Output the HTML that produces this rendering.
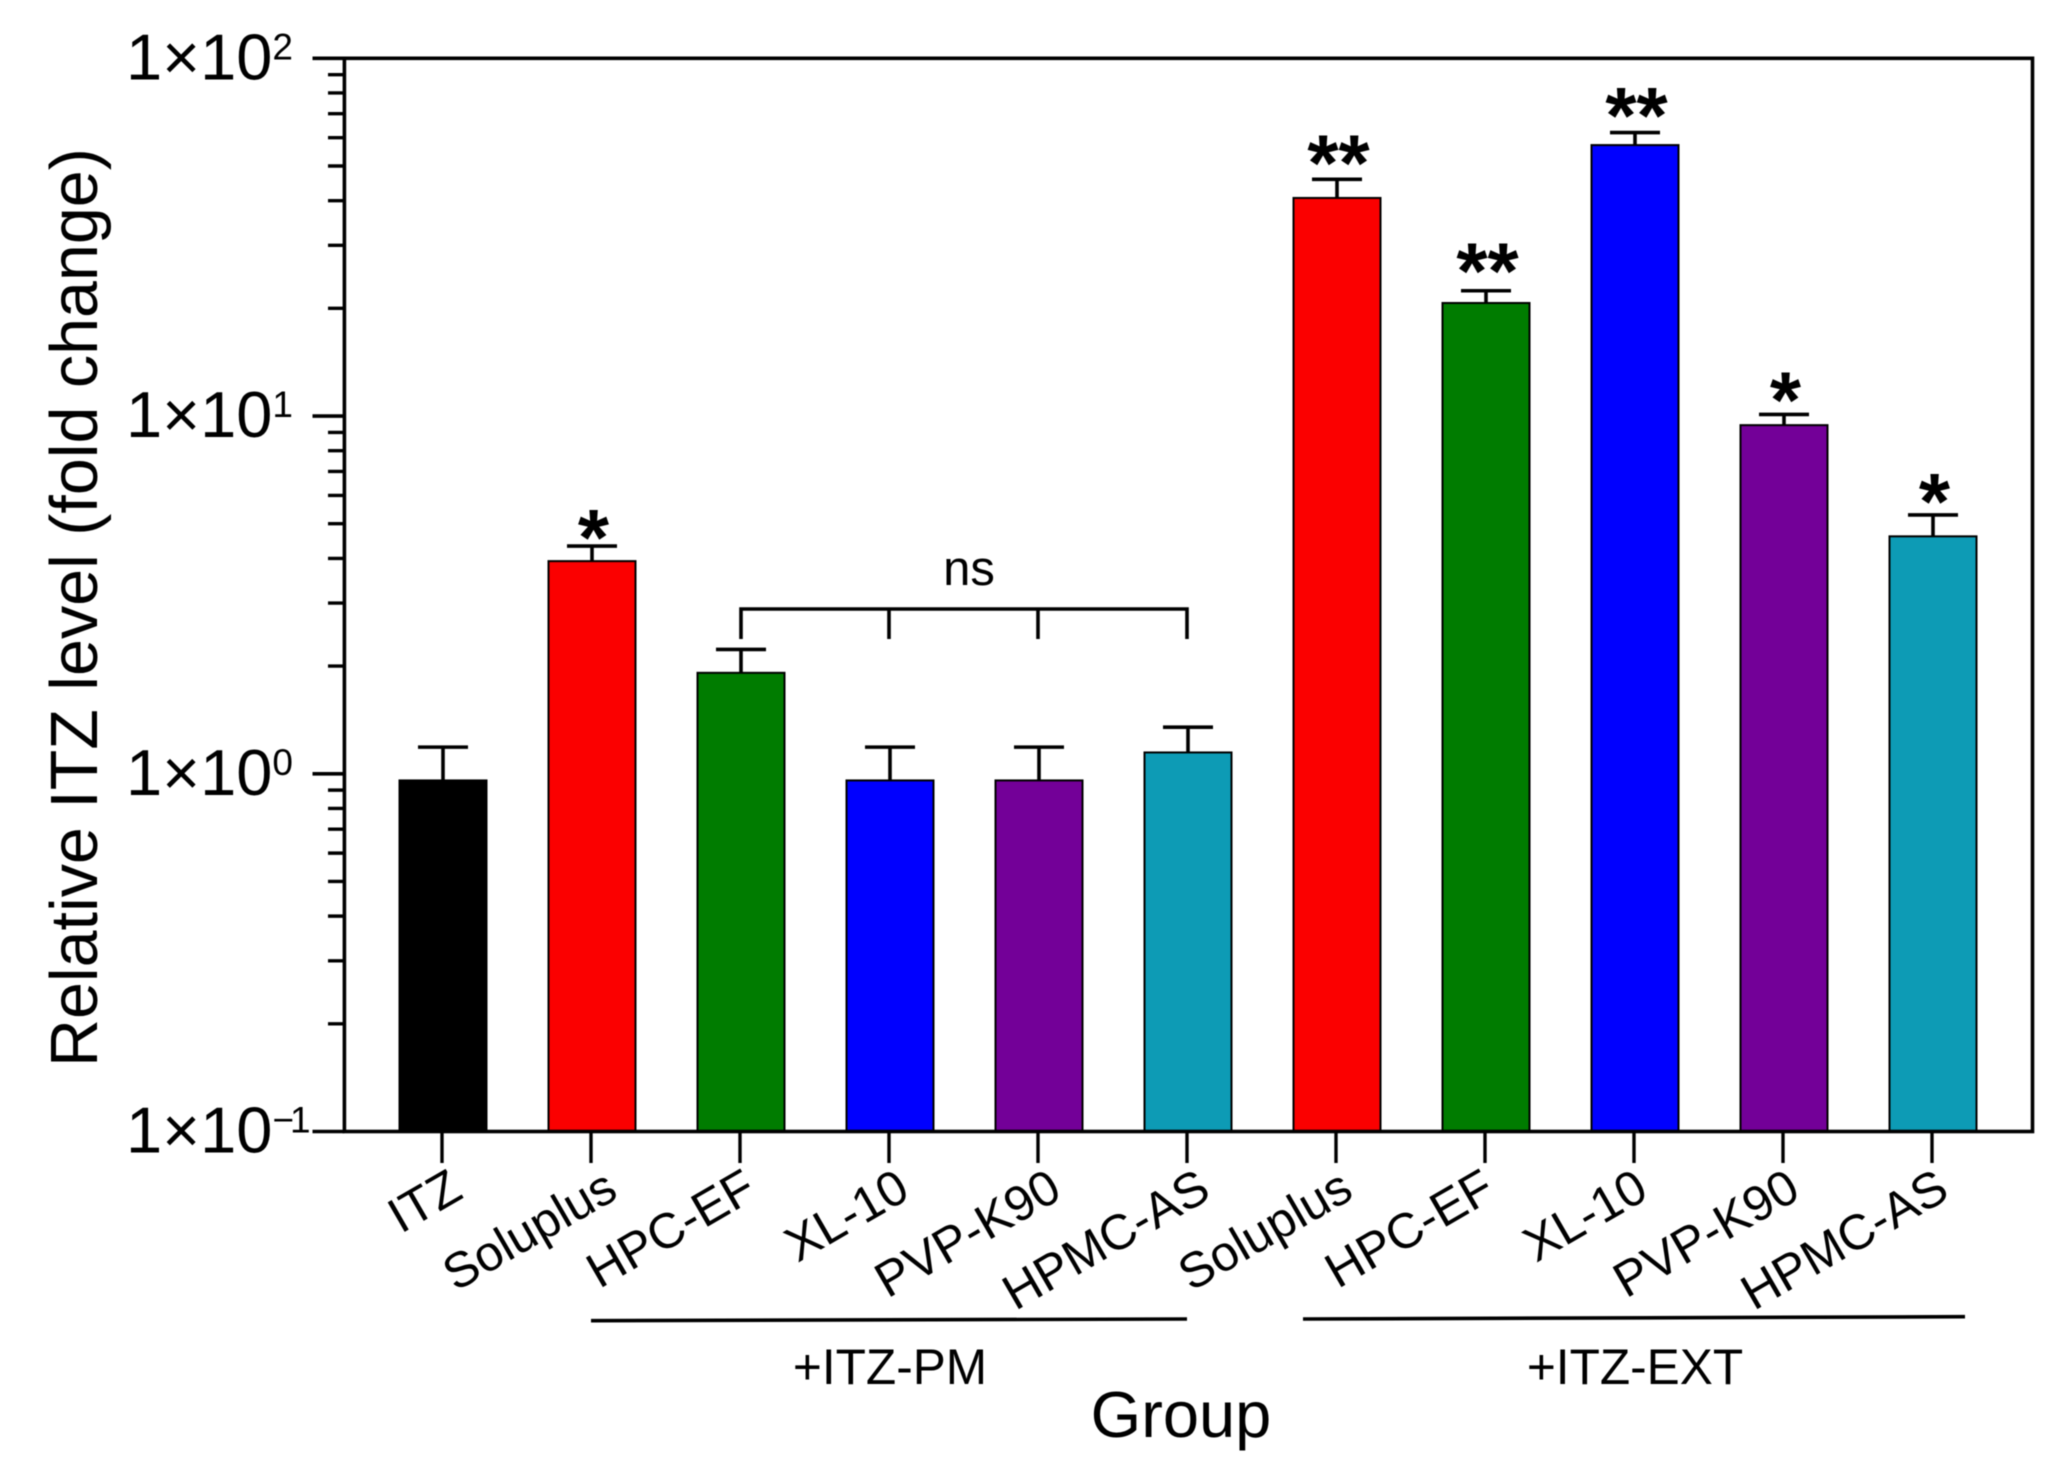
<!DOCTYPE html>
<html lang="en">
<head>
<meta charset="utf-8">
<title>Relative ITZ level by group</title>
<style>
  html, body { margin: 0; padding: 0; background: #ffffff; }
  svg { display: block; filter: blur(0.5px); }
  text { font-family: "Liberation Sans", Arial, sans-serif; fill: #000; }
</style>
</head>
<body>
<svg id="chart" xmlns="http://www.w3.org/2000/svg" width="2072" height="1472" viewBox="0 0 2072 1472">
  <rect x="0" y="0" width="2072" height="1472" fill="#ffffff"/>
  <g id="bars"></g>
  <g id="axes"></g>
  <g id="annotations"></g>

  <text transform="translate(97 1067) rotate(-90)" font-size="66.4">Relative ITZ level (fold change)</text>
  <text x="1181" y="1437" font-size="65" text-anchor="middle">Group</text>

  <line x1="591" y1="1320.7" x2="1187" y2="1319" stroke="#000" stroke-width="3.6"/>
  <text x="890" y="1384" font-size="49.6" text-anchor="middle">+ITZ-PM</text>
  <line x1="1303" y1="1319" x2="1965" y2="1316.7" stroke="#000" stroke-width="3.6"/>
  <text x="1635" y="1384" font-size="49.6" text-anchor="middle">+ITZ-EXT</text>

  <g fill="none" stroke="#000" stroke-width="3.6">
    <path d="M741 639V609H1187V639M889 609V639M1038 609V639"/>
  </g>
  <text x="969" y="585" font-size="49" text-anchor="middle">ns</text>
</svg>

<script>
// ---- chart data ----
const categories = ['ITZ', 'Soluplus', 'HPC-EF', 'XL-10', 'PVP-K90', 'HPMC-AS', 'Soluplus', 'HPC-EF', 'XL-10', 'PVP-K90', 'HPMC-AS'];
const meanValues = [0.958, 3.93, 1.915, 0.958, 0.958, 1.147, 40.7, 20.7, 57.2, 9.43, 4.61];
const upperErrorValues = [1.187, 4.33, 2.226, 1.187, 1.187, 1.35, 45.9, 22.4, 62, 10.1, 5.29];
const barColors = ['#000000', '#fb0000', '#007c00', '#0000ff', '#730098', '#0d9bb5', '#fb0000', '#007c00', '#0000ff', '#730098', '#0d9bb5'];
const significance = ['', '*', '', '', '', '', '**', '**', '**', '*', '*'];
const significanceHeadroom = [1, 1.066, 1, 1, 1, 1, 1.12, 1.145, 1.126, 1.108, 1.10];
const yTickExponents = [2, 1, 0, -1];
const yMinorMultipliers = [2, 3, 4, 5, 6, 7, 8, 9];

// ---- axis functions ----
const plotLeft = 344.4, plotRight = 2032.5, plotTop = 58.3, plotBottom = 1131.5;
const logMin = -1, logMax = 2;
function yScale(v) {
  return plotBottom - (Math.log10(v) - logMin) / (logMax - logMin) * (plotBottom - plotTop);
}
const firstBarX = 443, barStep = 149;
function xScale(i) {
  return firstBarX + barStep * i;
}
// horizontal fine-tuning of the rotated tick labels
function labelOffset(name, i) {
  let off = 26;
  if (name === 'HPC-EF') off -= 7;
  if (name === 'XL-10') off -= 3;
  if (name === 'Soluplus' && i < 6) off += 3;
  if (name === 'ITZ') off -= 3;
  if (i >= 6) off -= 6.5;
  return off;
}

const NS = 'http://www.w3.org/2000/svg';
function make(tag, parent, attrs) {
  const el = document.createElementNS(NS, tag);
  for (const k in attrs) el.setAttribute(k, attrs[k]);
  parent.appendChild(el);
  return el;
}

const barsG = document.getElementById('bars');
const axesG = document.getElementById('axes');
const annG = document.getElementById('annotations');
const barWidth = 87, capWidth = 50;

// ---- bars and error bars ----
categories.forEach(function (name, i) {
  const cx = xScale(i);
  const top = yScale(meanValues[i]);
  const capY = yScale(upperErrorValues[i]);

  const stem = make('line', barsG, { x1: cx, x2: cx, y1: capY, y2: top, stroke: '#000', 'stroke-width': 3.6 });
  
  

  const cap = make('line', barsG, { x1: cx - capWidth / 2, x2: cx + capWidth / 2, y1: capY, y2: capY, stroke: '#000', 'stroke-width': 3.6 });
  
  

  const bar = make('rect', barsG, { x: cx - barWidth / 2, y: top, width: barWidth, height: plotBottom - top, fill: barColors[i], stroke: '#000', 'stroke-width': 2 });
  
  

  if (significance[i]) {
    const bottomOfStars = yScale(upperErrorValues[i] * significanceHeadroom[i]);
    const star = make('text', annG, { x: cx + 1.5, y: bottomOfStars + 29, 'font-size': 80, 'font-weight': 'bold', 'text-anchor': 'middle' });
    star.textContent = significance[i];
    
    
  }

  const tickX = cx - 1;
  const tick = make('line', axesG, { x1: tickX, x2: tickX, y1: plotBottom, y2: 1163, stroke: '#000', 'stroke-width': 3.4 });
  
  

  const label = make('text', axesG, { 'font-size': 49.5, 'text-anchor': 'end', transform: 'translate(' + (tickX + labelOffset(name, i)) + ' 1197) rotate(-30)' });
  label.textContent = name;
  
  
});

// ---- frame ----
const frame = make('rect', axesG, { x: plotLeft, y: plotTop, width: plotRight - plotLeft, height: plotBottom - plotTop, fill: 'none', stroke: '#000', 'stroke-width': 3.6 });



// ---- y axis ticks ----
yTickExponents.forEach(function (exp) {
  const y = yScale(Math.pow(10, exp));

  const tick = make('line', axesG, { x1: 312.5, x2: plotLeft, y1: y, y2: y, stroke: '#000', 'stroke-width': 3.6 });
  
  

  const label = make('text', axesG, { x: 126, y: y + 21, 'font-size': 65 });
  
  
  const base = make('tspan', label, {});
  base.textContent = '1\u00D710';
  const supAttrs = { 'font-size': 37, dy: -20 };
  if (exp < 0) supAttrs['letter-spacing'] = -4;
  const sup = make('tspan', label, supAttrs);
  sup.textContent = exp < 0 ? '\u2212' + Math.abs(exp) : String(exp);

  if (exp > logMin) {
    yMinorMultipliers.forEach(function (m) {
      const my = yScale(m * Math.pow(10, exp - 1));
      const minor = make('line', axesG, { x1: 328, x2: plotLeft, y1: my, y2: my, stroke: '#000', 'stroke-width': 3.4 });
      
      
    });
  }
});
</script>
</body>
</html>
